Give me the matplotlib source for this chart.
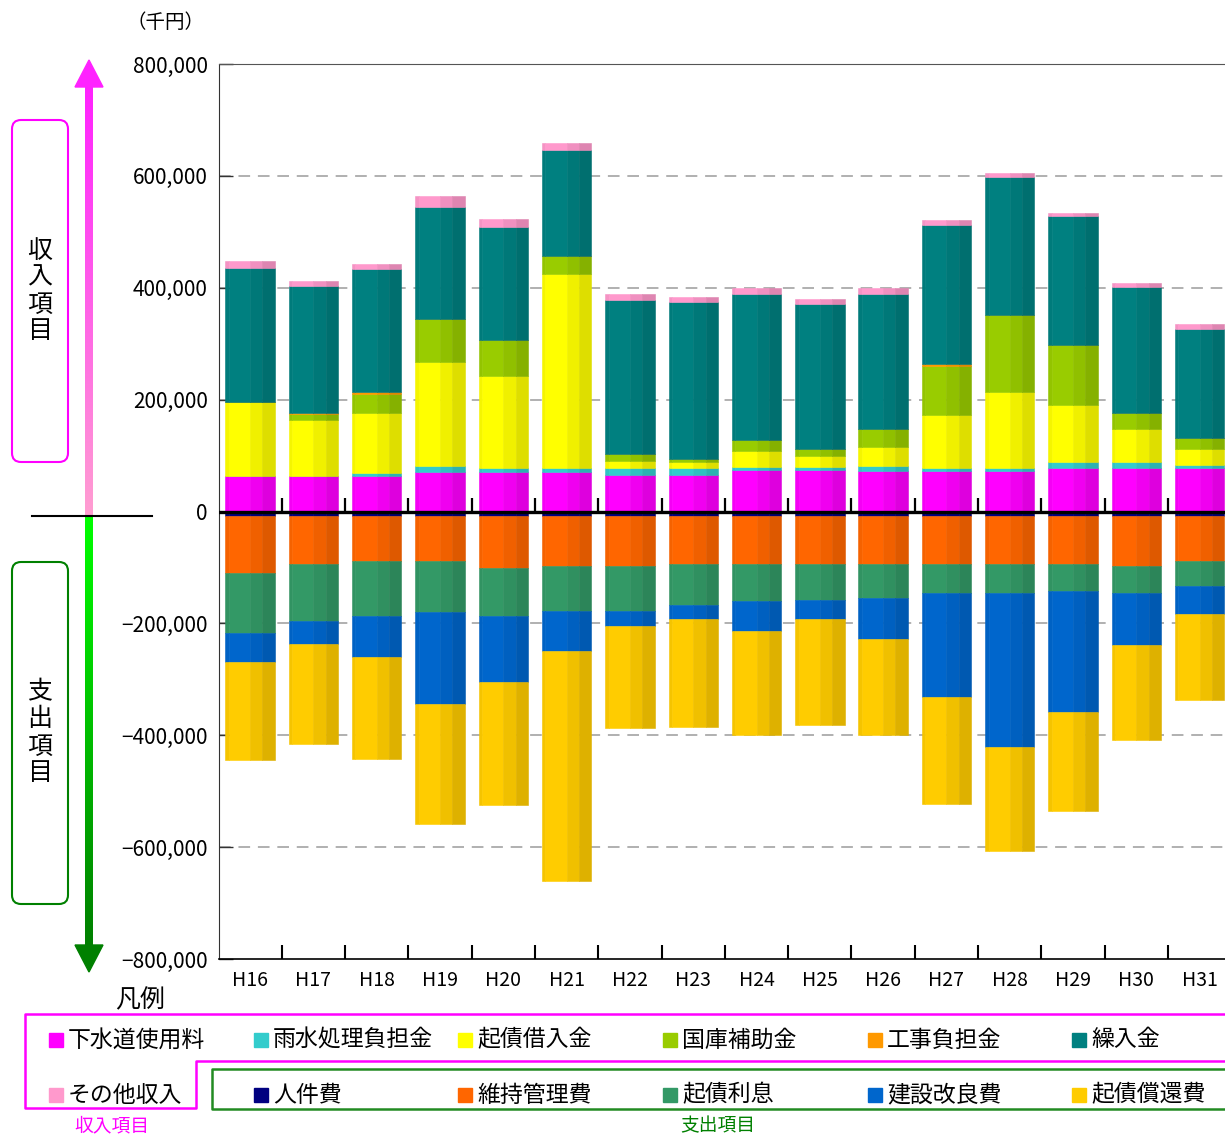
import matplotlib
matplotlib.use('Agg')
import matplotlib.pyplot as plt
import numpy as np
from matplotlib.patches import FancyBboxPatch, Rectangle, Polygon
from matplotlib.colors import to_rgb

plt.rcParams['font.family'] = ['Noto Sans CJK JP', 'DejaVu Sans']

years = ['H16', 'H17', 'H18', 'H19', 'H20', 'H21', 'H22', 'H23',
         'H24', 'H25', 'H26', 'H27', 'H28', 'H29', 'H30', 'H31']

# 収入 (千円), stacked from bottom to top
gesui = [64000, 64000, 64000, 70000, 70000, 70000, 66000, 66000, 75000, 75000, 72000, 72000, 72000, 77000, 77000, 77000]
usui = [0, 0, 5000, 12000, 7000, 7000, 11000, 11000, 5000, 5000, 9000, 5000, 5000, 11000, 11000, 7000]
kisai_kari = [131000, 100000, 107000, 186000, 166000, 347000, 14000, 12000, 29000, 20000, 34000, 95000, 136000, 102000, 59000, 27000]
kokko = [0, 9500, 34000, 77000, 64000, 32000, 11000, 5000, 18000, 12500, 32000, 88000, 138000, 107000, 29000, 20000]
koji = [0, 3000, 3500, 0, 0, 0, 0, 0, 0, 0, 0, 3000, 0, 0, 0, 0]
kurire = [240000, 226000, 220000, 199000, 202000, 191000, 276000, 281000, 261000, 258000, 242000, 249000, 247000, 231000, 225000, 195000]
sonota = [12000, 10000, 9000, 20000, 14000, 11000, 11000, 9000, 11000, 9000, 11000, 9000, 7000, 5000, 7000, 9000]

# 支出 (千円), stacked downward from zero
jinken = [8500, 7500, 7500, 7500, 7500, 7500, 7500, 7500, 7500, 7500, 7500, 7500, 7500, 7500, 7500, 7500]
iji = [102000, 87000, 80500, 80500, 93000, 89500, 89500, 87000, 87000, 87000, 87000, 87000, 87000, 87000, 89500, 80500]
risoku = [106000, 101000, 98000, 91000, 86000, 80500, 80500, 72000, 65000, 63000, 60000, 52000, 51000, 47000, 48000, 45000]
kairyo = [52000, 41000, 75000, 166000, 118000, 72000, 27000, 25000, 54000, 34000, 73000, 186000, 276000, 217000, 93000, 50000]
shokan = [175000, 179000, 182000, 214000, 220000, 411000, 182500, 193000, 186000, 190000, 172000, 190000, 186000, 177000, 170000, 154000]

income = [('下水道使用料', gesui, '#FF00FF'), ('雨水処理負担金', usui, '#33CCCC'),
          ('起債借入金', kisai_kari, '#FFFF00'), ('国庫補助金', kokko, '#99CC00'),
          ('工事負担金', koji, '#FF9900'), ('繰入金', kurire, '#008080'),
          ('その他収入', sonota, '#FF99CC')]
expense = [('人件費', jinken, '#000080'), ('維持管理費', iji, '#FF6600'),
           ('起債利息', risoku, '#339966'), ('建設改良費', kairyo, '#0066CC'),
           ('起債償還費', shokan, '#FFCC00')]

W, H = 1225, 1139
fig = plt.figure(figsize=(W / 100, H / 100), dpi=100)
ax = fig.add_axes([219 / W, (H - 959) / H, (W - 219) / W, 895 / H])

x = np.arange(len(years))
bw = 0.78
# vertical strips give the bars a cylinder-like shading
strips = [(0.0, 0.07, 0.96), (0.07, 0.5, 1.0), (0.5, 0.75, 0.94), (0.75, 1.0, 0.87)]


def shade(c, f):
    r, g, b = to_rgb(c)
    return (r * f, g * f, b * f)


def stacked(series, sign):
    bottom = np.zeros(len(years))
    for name, vals, col in series:
        v = np.array(vals, dtype=float) * sign
        for s0, s1, f in strips:
            ax.bar(x - bw / 2 + s0 * bw, v, width=(s1 - s0) * bw, bottom=bottom,
                   align='edge', color=shade(col, f), edgecolor=shade(col, f),
                   linewidth=0.4, zorder=3)
        bottom = bottom + v


stacked(income, 1)
stacked(expense, -1)

ax.set_xlim(-0.49, 15.4)
ax.set_ylim(-800000, 800000)
yt = np.arange(-800000, 800001, 200000)
ax.set_yticks(yt)
ax.set_yticklabels([f'{v:,}'.replace('-', '−') for v in yt], fontsize=15)
ax.tick_params(axis='y', direction='in', length=10, width=1, pad=8, color='#333333')
for v in yt:
    if v not in (0, 800000, -800000):
        ax.axhline(v, color='#B0B0B0', lw=1.4, ls=(0, (6, 4)), zorder=1)
ax.axhline(0, color='black', lw=2.4, zorder=5)

ax.set_xticks(x)
ax.set_xticklabels(years, fontsize=14)
ax.set_xticks(x[:-1] + 0.5, minor=True)
ax.tick_params(axis='x', which='major', length=0, pad=8)
ax.tick_params(axis='x', which='minor', direction='in', length=10, width=1.5, color='black')
ax.vlines(x[:-1] + 0.5, 0, 25000, color='black', lw=1.6, zorder=5)

ax.spines['right'].set_visible(False)
ax.spines['top'].set_color('#555555')
ax.spines['left'].set_color('#333333')
ax.spines['bottom'].set_color('black')
ax.spines['bottom'].set_linewidth(1.2)

# overlay in pixel coordinates for arrows, boxes and legend
ov = fig.add_axes([0, 0, 1, 1])
ov.axis('off')

n = 200
grad_up = np.linspace([1.0, 0.13, 1.0], [1.0, 0.62, 0.82], n)[:, None, :]
ov.imshow(grad_up, extent=[85, 93, 516, 86], aspect='auto', interpolation='bilinear')
ov.add_patch(Polygon([[75, 87], [103, 87], [89, 60]], closed=True, color='#FF22FF'))
grad_dn = np.linspace([0.0, 1.0, 0.0], [0.0, 0.5, 0.0], n)[:, None, :]
ov.imshow(grad_dn, extent=[85, 93, 946, 516], aspect='auto', interpolation='bilinear')
ov.add_patch(Polygon([[75, 945], [103, 945], [89, 972]], closed=True, color='#008000'))
ov.plot([32, 152], [516, 516], color='black', lw=1.5)

ov.add_patch(FancyBboxPatch((12, 120), 56, 342, boxstyle='round,pad=0,rounding_size=9',
                            fc='none', ec='#FF00FF', lw=1.5))
ov.add_patch(FancyBboxPatch((12, 562), 56, 342, boxstyle='round,pad=0,rounding_size=9',
                            fc='none', ec='#008000', lw=1.5))
ov.text(40, 291, '\n'.join('収入項目'), ha='center', va='center', fontsize=18, linespacing=1.05)
ov.text(40, 733, '\n'.join('支出項目'), ha='center', va='center', fontsize=18, linespacing=1.05)
ov.text(166, 22, '（千円）', ha='center', va='center', fontsize=14)

# legend
ov.text(140, 1000, '凡例', ha='center', va='center', fontsize=18)
ov.plot([1240, 25, 25, 196, 196, 1240], [1014, 1014, 1108, 1108, 1061, 1061], color='#FF00FF', lw=1.8)
ov.plot([1240, 212, 212, 1240], [1069, 1069, 1109, 1109], color='#228B22', lw=1.8)
ov.text(112, 1126, '収入項目', ha='center', va='center', fontsize=13.5, color='#FF00FF')
ov.text(718, 1126, '支出項目', ha='center', va='center', fontsize=13.5, color='#008000')

cols = [49, 254, 458, 663, 868, 1072]
leg_items = [(cols[i], 1040, income[i]) for i in range(6)]
leg_items.append((cols[0], 1095, income[6]))
leg_items += [(cols[i + 1], 1095, expense[i]) for i in range(5)]
for lx, ly, (name, _, col) in leg_items:
    ov.add_patch(Rectangle((lx, ly - 7), 14, 14, color=col))
    ov.text(lx + 19, ly, name, ha='left', va='center', fontsize=16.5)

ov.set_xlim(0, W)
ov.set_ylim(H, 0)

fig.savefig('out.png', dpi=100)
